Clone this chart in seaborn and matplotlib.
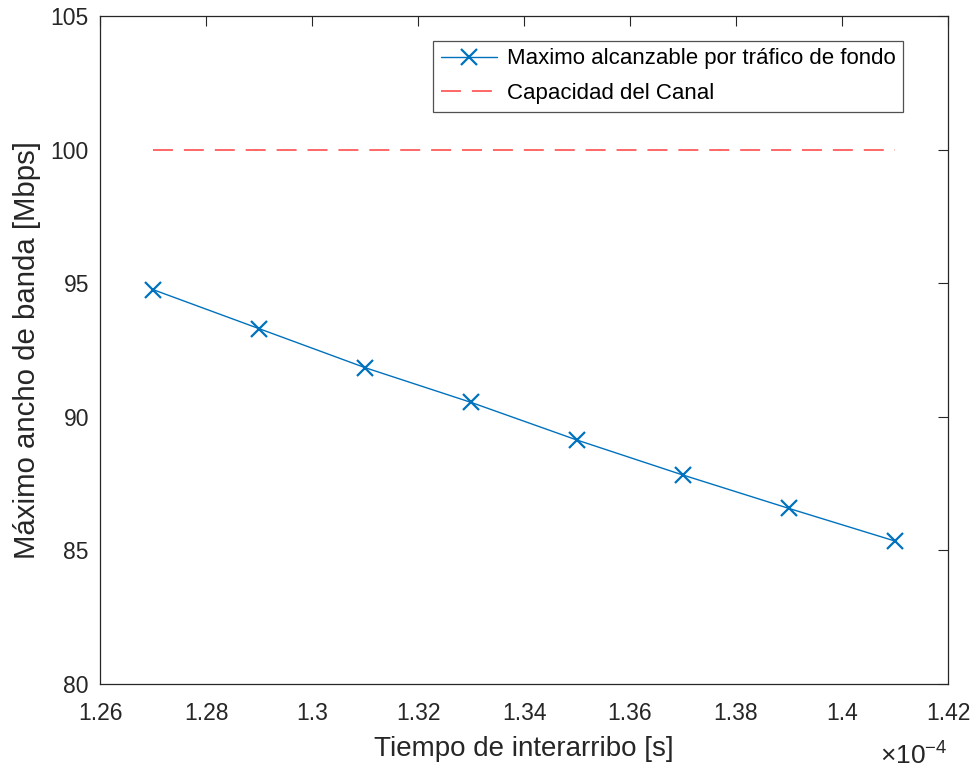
import matplotlib
matplotlib.use("Agg")
import matplotlib.pyplot as plt
import seaborn as sns
import numpy as np
import pandas as pd
from matplotlib.ticker import FuncFormatter, FixedLocator

# Data
interarrival_s = [1.27e-4, 1.29e-4, 1.31e-4, 1.33e-4, 1.35e-4, 1.37e-4, 1.39e-4, 1.41e-4]
max_bw_mbps = [94.76, 93.30, 91.84, 90.54, 89.13, 87.82, 86.57, 85.35]
capacity_mbps = [100, 100, 100, 100, 100, 100, 100, 100]
x_ticks = [1.26, 1.28, 1.30, 1.32, 1.34, 1.36, 1.38, 1.40, 1.42]
y_ticks = [80, 85, 90, 95, 100, 105]
label_series = "Maximo alcanzable por tráfico de fondo"
label_capacity = "Capacidad del Canal"
scale = 1e4

sns.set_style("white")
plt.rcParams['font.family'] = ['Liberation Sans', 'DejaVu Sans']
plt.rcParams['mathtext.fontset'] = 'custom'
plt.rcParams['mathtext.rm'] = 'Liberation Sans'
plt.rcParams['mathtext.it'] = 'Liberation Sans'

df = pd.DataFrame({"x": np.array(interarrival_s) * scale,
                   "bw": max_bw_mbps, "cap": capacity_mbps})

fig = plt.figure(figsize=(9.72, 7.68), dpi=100)
ax = fig.add_axes([100/972, 1-684/768, 848/972, 668/768])

txt = "#262626"
axc = "#262626"
blue = "#0072BD"
red = "#FF5555"

sns.lineplot(data=df, x="x", y="bw", ax=ax, color=blue, lw=1.0,
             marker="x", markersize=11, markeredgewidth=1.6,
             markeredgecolor=blue, markerfacecolor=blue,
             label=label_series, legend=False)
sns.lineplot(data=df, x="x", y="cap", ax=ax, color=red, lw=1.25,
             label=label_capacity, legend=False)

blue_line = None
red_line = None
for l in ax.lines:
    if l.get_label() == label_capacity:
        red_line = l
    elif l.get_label() == label_series:
        blue_line = l
red_line.set_linestyle((0, (11.5, 6.3)))

ax.set_xlim(1.26, 1.42)
ax.set_ylim(80, 105)
ax.xaxis.set_major_locator(FixedLocator(x_ticks))
ax.yaxis.set_major_locator(FixedLocator(y_ticks))
ax.xaxis.set_major_formatter(FuncFormatter(lambda v, p: f"{v:g}"))
ax.yaxis.set_major_formatter(FuncFormatter(lambda v, p: f"{v:g}"))

ax.tick_params(direction="in", length=7, width=0.8, colors=axc,
               labelcolor=txt, labelsize=16.5, top=True, right=True)
ax.tick_params(axis="x", pad=13)
ax.tick_params(axis="y", pad=8)
for s in ax.spines.values():
    s.set_color(axc)
    s.set_linewidth(0.9)
    s.set_visible(True)

ax.set_xlabel("Tiempo de interarribo [s]", fontsize=20, color=txt, labelpad=8)
ax.set_ylabel("Máximo ancho de banda [Mbps]", fontsize=21.2, color=txt, labelpad=7)

ax.text(1.0, -0.121, r"$\times$10$^{\mathregular{-4}}$", transform=ax.transAxes,
        ha="right", va="baseline", fontsize=19, color=txt)

leg = ax.legend(handles=[blue_line, red_line],
                loc="upper right", bbox_to_anchor=(0.947, 0.963),
                fontsize=16, frameon=True, fancybox=False,
                edgecolor="#262626", handlelength=2.5, handletextpad=0.45,
                borderpad=0.35, labelspacing=0.62, borderaxespad=0)
leg.get_frame().set_linewidth(0.9)
for t in leg.get_texts():
    t.set_color("black")

fig.savefig("out.png", dpi=100)
